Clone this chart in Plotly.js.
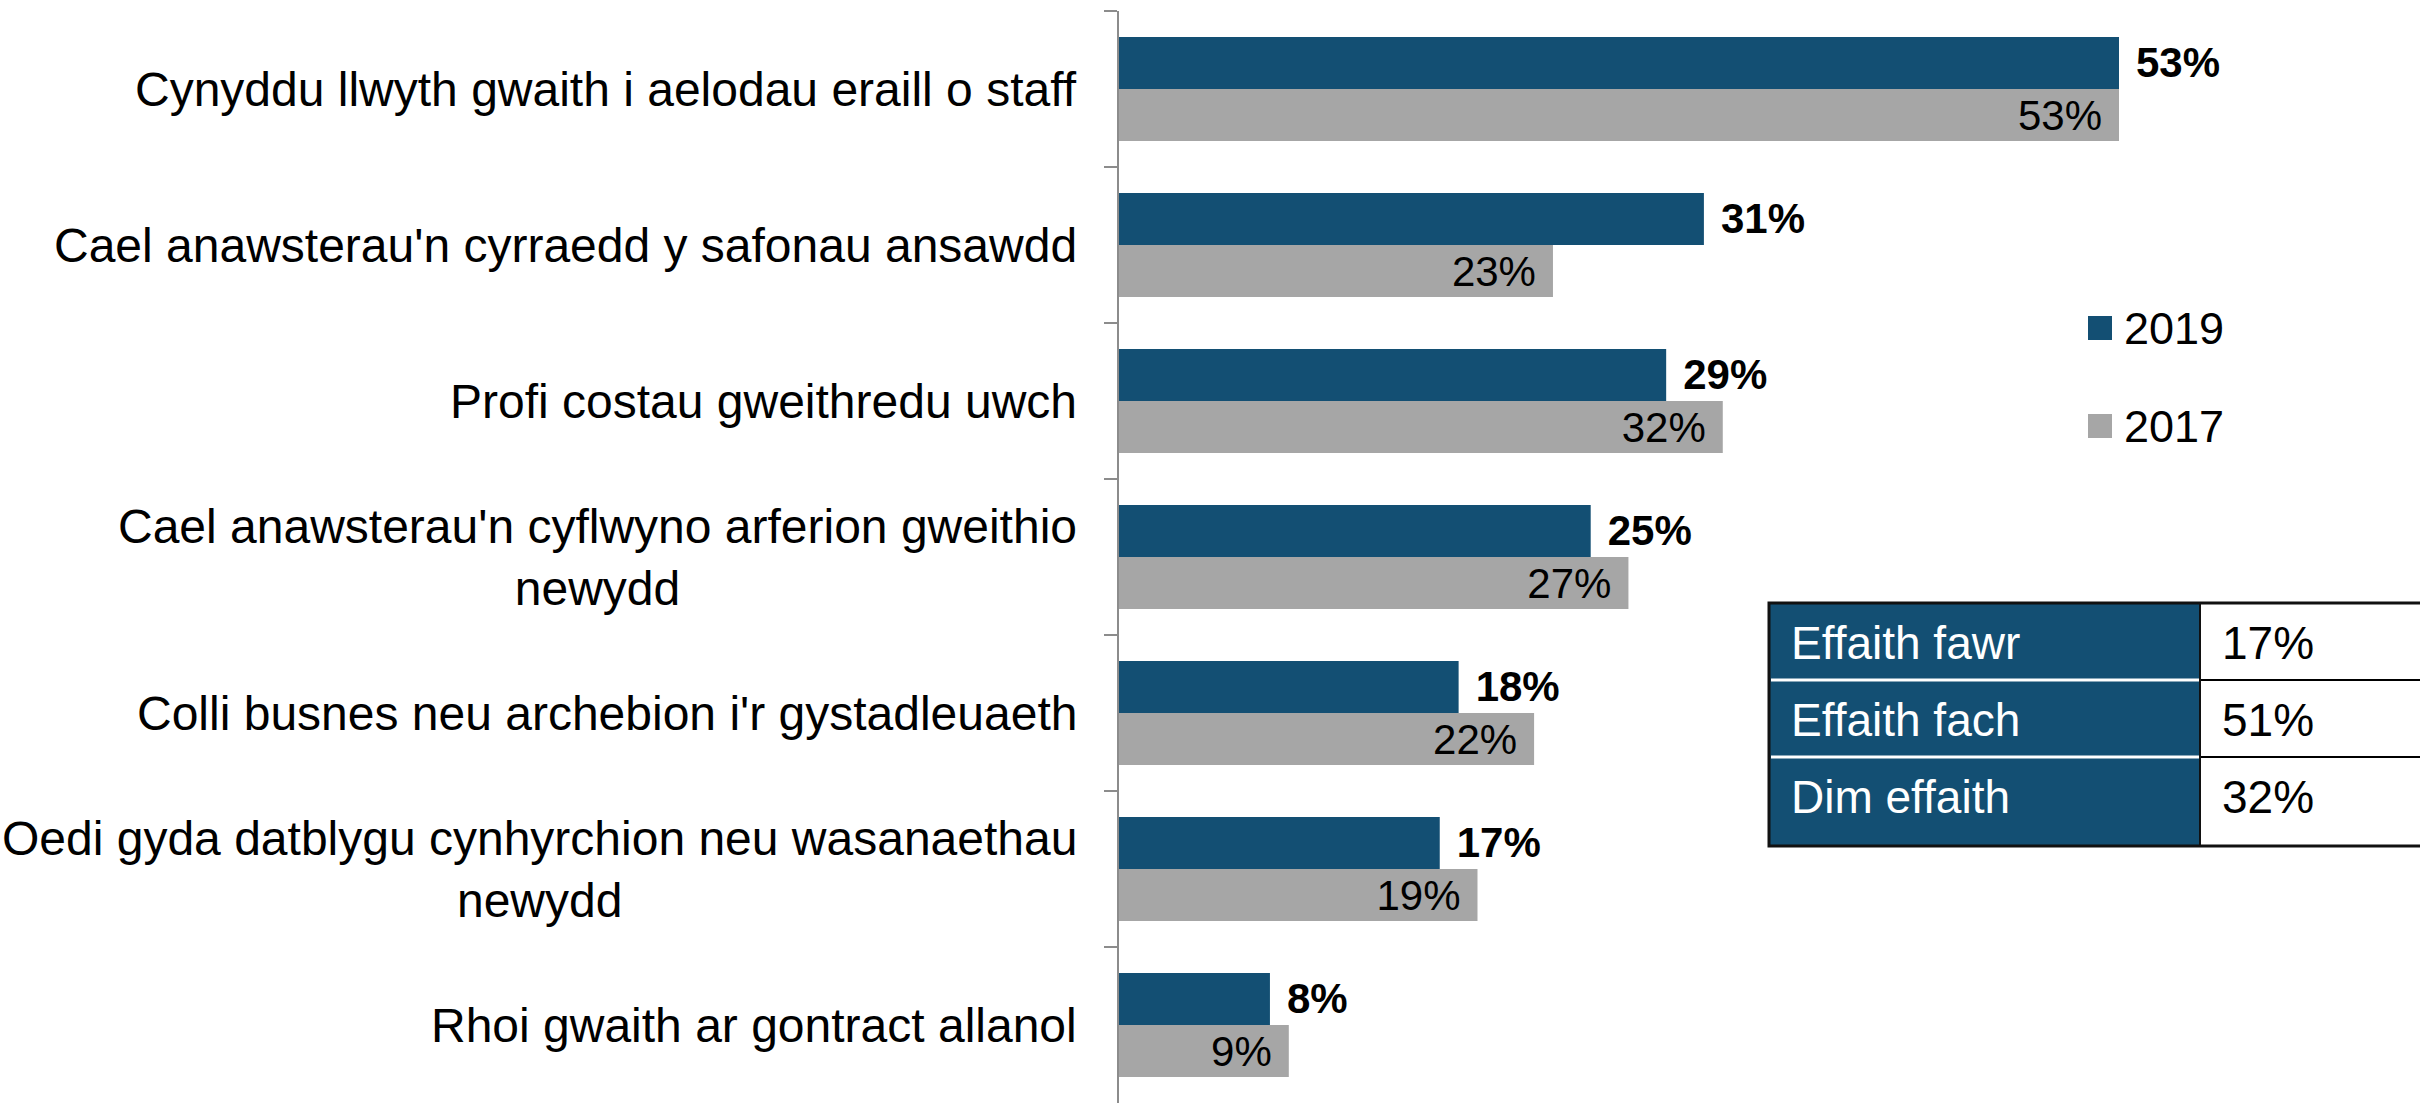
<!DOCTYPE html>
<html>
<head>
<meta charset="utf-8">
<script src="https://cdn.plot.ly/plotly-3.0.1.min.js"></script>
<style>html,body{margin:0;padding:0;background:#fff;}#chart{width:2420px;height:1106px;}</style>
</head>
<body>
<div id="chart"></div>
<script>
const categories = [
  "Cynyddu llwyth gwaith i aelodau eraill o staff",
  "Cael anawsterau'n cyrraedd y safonau ansawdd",
  "Profi costau gweithredu uwch",
  "Cael anawsterau'n cyflwyno arferion gweithio<br>newydd",
  "Colli busnes neu archebion i'r gystadleuaeth",
  "Oedi gyda datblygu cynhyrchion neu wasanaethau<br>newydd",
  "Rhoi gwaith ar gontract allanol"
];
const values2019 = [53, 31, 29, 25, 18, 17, 8];
const values2017 = [53, 23, 32, 27, 22, 19, 9];
const seriesNames = ["2019", "2017"];
const seriesColors = ["#134f73", "#a6a6a6"];
const tableLabels = ["Effaith fawr", "Effaith fach", "Dim effaith"];
const tableValues = ["17%", "51%", "32%"];

const FONT = "Arial, 'Liberation Sans', sans-serif";
const L = 1119, R = 2420, T = 11, B = 1103;
const px = x => (x - L) / (R - L);
const py = y => 1 - (y - T) / (B - T);

const traces = [
  {
    type: "bar", orientation: "h", name: seriesNames[0],
    y: categories, x: values2019,
    marker: {color: seriesColors[0], line: {width: 0}},
    texttemplate: "\u2004%{x}%", textposition: "outside", textangle: 0,
    constraintext: "none", cliponaxis: false,
    outsidetextfont: {family: FONT, size: 42, color: "#000", weight: "bold"},
    hoverinfo: "skip", showlegend: false
  },
  {
    type: "bar", orientation: "h", name: seriesNames[1],
    y: categories, x: values2017,
    marker: {color: seriesColors[1], line: {width: 0}},
    texttemplate: "%{x}%\u2004", textposition: "inside", insidetextanchor: "end", textangle: 0,
    constraintext: "none",
    insidetextfont: {family: FONT, size: 42, color: "#000"},
    hoverinfo: "skip", showlegend: false
  }
];

const shapes = [];
const annotations = [];

// category labels (centered multi-line, right-anchored at the axis)
categories.forEach(c => {
  annotations.push({
    xref: "paper", yref: "y", x: 0, y: c, xanchor: "right", yanchor: "middle",
    xshift: -40, text: c, showarrow: false, align: "center",
    font: {family: FONT, size: 48, color: "#000"}
  });
});

// legend
const legendY = [328, 426];
seriesNames.forEach((n, i) => {
  const cy = legendY[i];
  shapes.push({type: "rect", xref: "paper", yref: "paper",
    x0: px(2088), x1: px(2112), y0: py(cy - 12), y1: py(cy + 12),
    fillcolor: seriesColors[i], line: {width: 0}});
  annotations.push({xref: "paper", yref: "paper", x: px(2122), y: py(cy),
    xanchor: "left", yanchor: "middle", text: n, showarrow: false,
    font: {family: FONT, size: 45, color: "#000"}});
});

// table
const tX0 = 1769, tX1 = 2200, tX2 = 2430, tY0 = 603, rowH = 77, tY3 = 846;
shapes.push({type: "rect", xref: "paper", yref: "paper",
  x0: px(tX0), x1: px(tX1), y0: py(tY0), y1: py(tY3),
  fillcolor: seriesColors[0], line: {width: 0}});
for (let i = 1; i < tableLabels.length; i++) {
  const yy = tY0 + rowH * i;
  shapes.push({type: "line", xref: "paper", yref: "paper",
    x0: px(tX0 + 2), x1: px(tX1 - 1), y0: py(yy), y1: py(yy),
    line: {color: "#ffffff", width: 3}});
  shapes.push({type: "line", xref: "paper", yref: "paper",
    x0: px(tX1), x1: px(tX2), y0: py(yy), y1: py(yy),
    line: {color: "#000000", width: 2}});
}
shapes.push({type: "rect", xref: "paper", yref: "paper",
  x0: px(tX0), x1: px(tX2), y0: py(tY0), y1: py(tY3),
  fillcolor: "rgba(0,0,0,0)", line: {color: "#111", width: 3}});
shapes.push({type: "line", xref: "paper", yref: "paper",
  x0: px(tX1), x1: px(tX1), y0: py(tY0), y1: py(tY3),
  line: {color: "#111", width: 2}});
tableLabels.forEach((lab, i) => {
  const cy = tY0 + rowH * (i + 0.5) + 1;
  annotations.push({xref: "paper", yref: "paper", x: px(tX0 + 20), y: py(cy),
    xanchor: "left", yanchor: "middle", text: lab, showarrow: false,
    font: {family: FONT, size: 46, color: "#ffffff"}});
  annotations.push({xref: "paper", yref: "paper", x: px(tX1 + 20), y: py(cy),
    xanchor: "left", yanchor: "middle", text: tableValues[i], showarrow: false,
    font: {family: FONT, size: 46, color: "#000"}});
});

const layout = {
  width: 2420, height: 1106,
  margin: {l: L, r: 2420 - R, t: T, b: 1106 - B, pad: 0},
  paper_bgcolor: "#ffffff", plot_bgcolor: "#ffffff",
  barmode: "group", bargap: 0.333, bargroupgap: 0,
  showlegend: false,
  xaxis: {range: [0, (R - L) / (1000 / 53)], visible: false, fixedrange: true},
  yaxis: {
    type: "category", range: [6.5, -0.5], showticklabels: false,
    showline: true, linecolor: "#8c8c8c", linewidth: 2,
    ticks: "outside", tickson: "boundaries", ticklen: 13, tickcolor: "#8c8c8c", tickwidth: 2,
    showgrid: false, zeroline: false, fixedrange: true
  },
  shapes: shapes,
  annotations: annotations,
  font: {family: FONT}
};

Plotly.newPlot("chart", traces, layout, {staticPlot: true, displayModeBar: false});
</script>
</body>
</html>
